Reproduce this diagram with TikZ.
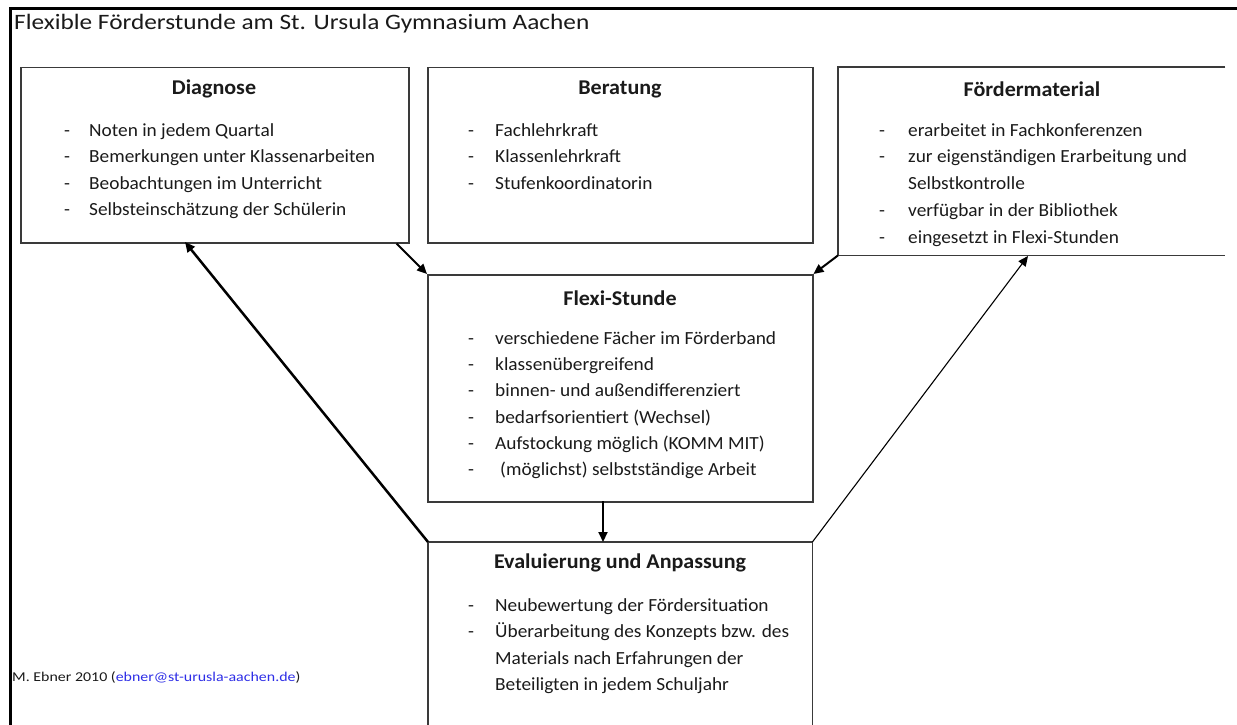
\documentclass[tikz,border=0pt]{standalone}
\usepackage{fontspec}
\setmainfont{Carlito}
\newfontfamily\bodyfont{Carlito}[FakeStretch=1.045]
\newfontfamily\headfont{Carlito}[FakeStretch=1.05]
\newfontfamily\titlefont{Carlito}[FakeStretch=1.15]
\newfontfamily\creditfont{Carlito}[FakeStretch=1.18]
\usetikzlibrary{arrows.meta}
\definecolor{boxgray}{HTML}{3A3A3A}
\definecolor{txt}{HTML}{1A1A1A}
\definecolor{mailblue}{HTML}{2E2EE6}
\newcommand\bul[5]{%
  \node[dashst] (#1d) at (#2,#4) {-};
  \node[itemst] (#1t) at (#3,#4) {#5};}
\begin{document}
\begin{tikzpicture}[x=1pt,y=-1pt,
  boxst/.style={draw=boxgray,line width=1.5pt,inner sep=0pt,anchor=north west,rectangle},
  ghost/.style={inner sep=0pt,anchor=north west,rectangle},
  headst/.style={font=\headfont\fontsize{21}{25}\selectfont\bfseries,text=txt,inner sep=0pt},
  dashst/.style={font=\bodyfont\fontsize{18.5}{22}\selectfont,text=txt,inner sep=0pt,anchor=base west},
  itemst/.style={font=\bodyfont\fontsize{18.5}{22}\selectfont,text=txt,inner sep=0pt,anchor=base west},
  arr/.style={-{Triangle[length=10pt,width=9pt]},line width=2pt,black},
  thinarr/.style={-{Triangle[length=10pt,width=9pt]},line width=1.1pt,black}]
\useasboundingbox (0,0) rectangle (1237,725);
% outer frame (top and left)
\draw[line width=3pt,black] (1237,9) -- (10,9) -- (10,725);
\node[anchor=base west,inner sep=0pt,font=\titlefont\fontsize{22}{26}\selectfont,text=txt] (title) at (14,30) {Flexible Förderstunde am St. Ursula Gymnasium Aachen};

% boxes
\node[boxst,minimum width=388pt,minimum height=175pt] (diag) at (20,67) {};
\node[boxst,minimum width=385pt,minimum height=175pt] (ber) at (427,67) {};
\node[ghost,minimum width=387pt,minimum height=188pt] (foer) at (838,67) {};
\draw[boxgray,line width=1.5pt] (foer.north east) -- (foer.north west) -- (foer.south west) -- (foer.south east);
\node[boxst,minimum width=385pt,minimum height=227pt] (flexi) at (427,274) {};
\node[ghost,minimum width=384pt,minimum height=190pt] (eval) at (428,542) {};
\draw[boxgray,line width=1.5pt] (eval.south west) -- (eval.north west) -- (eval.north east) -- (eval.south east);

% headings
\node[headst] (hdiag) at (214,89) {Diagnose};
\node[headst] (hber) at (620,89) {Beratung};
\node[headst] (hfoer) at (1032,89) {Fördermaterial};
\node[headst] (hflexi) at (620,298) {Flexi-Stunde};
\node[headst] (heval) at (620,563) {Evaluierung und Anpassung};

% Diagnose items
\bul{d1}{64}{89}{136}{Noten in jedem Quartal}
\bul{d2}{64}{89}{162}{Bemerkungen unter Klassenarbeiten}
\bul{d3}{64}{89}{189}{Beobachtungen im Unterricht}
\bul{d4}{64}{89}{215}{Selbsteinschätzung der Schülerin}
% Beratung items
\bul{b1}{468}{495}{136}{Fachlehrkraft}
\bul{b2}{468}{495}{162}{Klassenlehrkraft}
\bul{b3}{468}{495}{189}{Stufenkoordinatorin}
% Foerdermaterial items
\bul{f1}{879}{908}{136}{erarbeitet in Fachkonferenzen}
\bul{f2}{879}{908}{162}{zur eigenständigen Erarbeitung und}
\node[itemst] (f2b) at (908,189) {Selbstkontrolle};
\bul{f3}{879}{908}{216}{verfügbar in der Bibliothek}
\bul{f4}{879}{908}{243}{eingesetzt in Flexi-Stunden}
% Flexi items
\bul{x1}{468}{495}{344}{verschiedene Fächer im Förderband}
\bul{x2}{468}{495}{370}{klassenübergreifend}
\bul{x3}{468}{495}{396}{binnen- und außendifferenziert}
\bul{x4}{468}{495}{423}{bedarfsorientiert (Wechsel)}
\bul{x5}{468}{495}{449}{Aufstockung möglich (KOMM MIT)}
\bul{x6}{468}{500}{475}{(möglichst) selbstständige Arbeit}
% Evaluierung items
\bul{e1}{468}{495}{611}{Neubewertung der Fördersituation}
\bul{e2}{468}{495}{637}{Überarbeitung des Konzepts bzw. des}
\node[itemst] (e2b) at (495,664) {Materials nach Erfahrungen der};
\node[itemst] (e2c) at (495,690) {Beteiligten in jedem Schuljahr};

% credit
\node[anchor=base west,inner sep=0pt,font=\creditfont\fontsize{13.5}{16}\selectfont,text=txt] (credit) at (12,681) {M. Ebner 2010 (\textcolor{mailblue}{ebner@st-urusla-aachen.de})};

% connectors
\coordinate (dstart) at ([xshift=-13pt]diag.south east);
\draw[arr] (dstart) -- (flexi.north west);
\draw[arr] (foer.south west) -- (flexi.north east);
\coordinate (fbot) at (603,501);
\coordinate (etop) at (603,542);
\draw[arr] (fbot) -- (etop);
\coordinate (dtip) at (185,242);
\draw[arr,line width=2.5pt] (eval.north west) -- (dtip);
\coordinate (ftip) at (1028,256);
\draw[thinarr] (eval.north east) -- (ftip);
\end{tikzpicture}
\end{document}
